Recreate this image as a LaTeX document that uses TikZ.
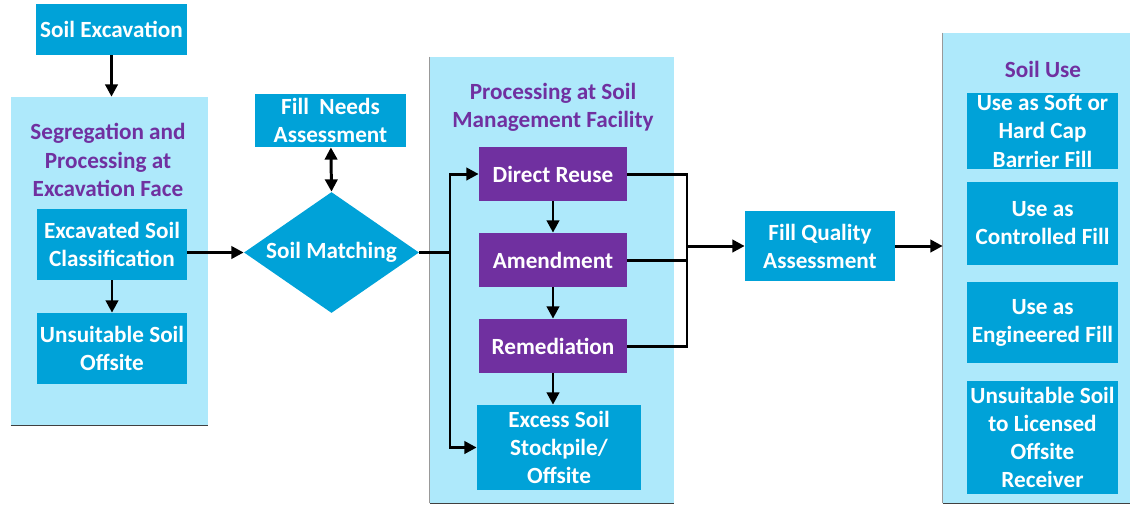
\documentclass[tikz,border=0pt]{standalone}
\usepackage{fontspec}
\setmainfont{Carlito}
\usepackage{xcolor}
\usetikzlibrary{positioning, arrows.meta, shapes.geometric}
\definecolor{boxblue}{RGB}{0,162,216}
\definecolor{panelblue}{RGB}{174,233,251}
\definecolor{stepviolet}{RGB}{112,48,160}

\begin{document}
\begin{tikzpicture}[
    x = 0.02cm, y = -0.02cm,
    every node/.style = {font=\bfseries\fontsize{13.2}{16}\selectfont, align=center, inner sep=1pt},
    bluebox/.style = {fill=boxblue, text=white, minimum width=3.02cm},
    violetbox/.style = {fill=stepviolet, text=white, minimum width=2.96cm, minimum height=1.08cm},
    panel/.style = {fill=panelblue, inner sep=0pt},
    paneltitle/.style = {text=stepviolet},
    flow/.style = {line width=1.7pt, -{Triangle[length=7pt, width=7pt]}},
    plain/.style = {line width=1.7pt},
    rim/.style = {line width=0.8pt, black!75}
  ]
    \useasboundingbox (0,0) rectangle (1130,505);

    % Hintergrundfelder
    \node[panel, minimum width=3.94cm, minimum height=6.56cm] (face) at (109.5,261) {};
    \node[panel, minimum width=4.88cm, minimum height=8.92cm] (facility) at (552,280) {};
    \node[panel, minimum width=3.74cm, minimum height=9.4cm] (use) at (1036.5,268) {};
    \draw[rim] (face.south west) -- (face.south east);
    \draw[rim, black!40] (facility.north west) -- (facility.south west);
    \draw[rim] (facility.south west) -- (facility.south east);
    \draw[rim, black!40] (use.north west) -- (use.south west);
    \draw[rim] (use.south west) -- (use.south east);

    \node[paneltitle] (facetitle) at (108,160) {Segregation and\\Processing at\\Excavation Face};
    \node[paneltitle] (facilitytitle) at (553,107) {Processing at Soil\\Management Facility};
    \node[paneltitle] (usetitle) at (1043,69) {Soil Use};

    % linke Spalte
    \node[bluebox, minimum height=1.02cm] (exc) at (111.5,29.5) {Soil Excavation};
    \node[bluebox, minimum width=3cm, minimum height=1.42cm] (esc) at (112,244.5) {Excavated Soil\\Classification};
    \node[bluebox, minimum width=3cm, minimum height=1.42cm] (unfit) at (112,348.5) {Unsuitable Soil\\Offsite};

    \node[diamond, aspect=2.2, fill=boxblue, text=white, inner sep=0pt, minimum width=3.46cm, minimum height=2.42cm] (match) at (331.5,252.5) {Soil Matching};
    \node[bluebox, minimum height=1.06cm] (needs) at (330.5,120.5) {Fill~~Needs\\Assessment};

    % Anlage
    \node[violetbox] (reuse) at (553,174) {Direct Reuse};
    \node[violetbox] (amend) at (553,260) {Amendment};
    \node[violetbox] (remed) at (553,346) {Remediation};
    \node[bluebox, minimum width=3.28cm, minimum height=1.7cm] (excess) at (559,447.5) {Excess Soil\\Stockpile/\\Offsite};

    \node[bluebox, minimum width=3cm, minimum height=1.4cm] (fqa) at (820,246) {Fill Quality\\Assessment};

    % Verwendung
    \node[bluebox, minimum height=1.52cm] (cap) at (1042.5,131) {Use as Soft or\\Hard Cap\\Barrier Fill};
    \node[bluebox, minimum height=1.66cm] (controlled) at (1042.5,223.5) {Use as\\Controlled Fill};
    \node[bluebox, minimum height=1.62cm] (engineered) at (1042.5,322.5) {Use as\\Engineered Fill};
    \node[bluebox, minimum height=2.26cm] (licensed) at (1042.5,437.5) {Unsuitable Soil\\to Licensed\\Offsite\\Receiver};

    \coordinate (split) at (450,252.5);
    \coordinate (merge) at (687,246);

    % Pfeile
    \draw[flow] (exc) -- (exc |- face.north);
    \draw[flow] (esc) -- (unfit);
    \draw[flow] (esc.east |- match.west) -- (match.west);
    \draw[line width=1.7pt, {Triangle[length=7pt, width=7pt]}-{Triangle[length=7pt, width=7pt]}] (needs) -- (match.north);
    \draw[plain] (match.east) -- (split);
    \draw[flow] (split) |- (reuse.west);
    \draw[flow] (split) |- (excess.west);
    \draw[flow] (reuse) -- (amend);
    \draw[flow] (amend) -- (remed);
    \draw[flow] (remed) -- (remed |- excess.north);
    \draw[plain] (reuse.east) -| (merge);
    \draw[plain] (remed.east) -| (merge);
    \draw[plain] (amend.east) -- (amend.east -| merge);
    \draw[flow] (merge) -- (fqa.west);
    \draw[flow] (fqa.east) -- (fqa.east -| use.west);
\end{tikzpicture}
\end{document}
